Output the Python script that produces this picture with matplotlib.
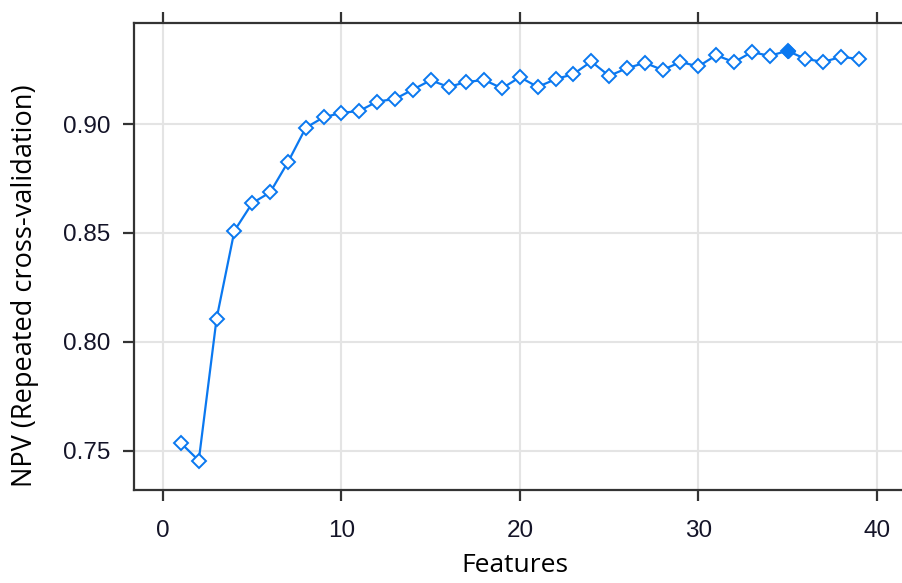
import matplotlib.pyplot as plt

# number of selected features vs. resampled NPV
features = list(range(1, 40))
npv = [0.7535, 0.7455, 0.8107, 0.8510, 0.8637, 0.8686, 0.8825, 0.8983, 0.9031, 0.9051,
       0.9060, 0.9103, 0.9115, 0.9158, 0.9201, 0.9170, 0.9193, 0.9202, 0.9164, 0.9215,
       0.9170, 0.9206, 0.9229, 0.9287, 0.9221, 0.9256, 0.9281, 0.9248, 0.9285, 0.9264,
       0.9316, 0.9284, 0.9330, 0.9313, 0.9336, 0.9299, 0.9285, 0.9308, 0.9299]
best = 35
xticks = [0, 10, 20, 30, 40]
yticks = [0.75, 0.80, 0.85, 0.90]

blue = '#0a78f0'
tick_font = ['Liberation Sans Narrow', 'Liberation Sans', 'DejaVu Sans']
label_font = ['Open Sans', 'DejaVu Sans']

fig = plt.figure(figsize=(9.03, 5.83), dpi=100)
ax = fig.add_axes([134 / 903, 1 - 489.5 / 583, 776.6 / 903, 467 / 583])

ax.plot(features, npv, color=blue, lw=1.6, marker='D', ms=7,
        mfc='white', mec=blue, mew=1.4, zorder=3)
ax.plot(best, npv[features.index(best)], marker='D', ms=7, color=blue, zorder=4)

ax.set_xlim(-1.63, 41.9)
ax.set_ylim(0.7322, 0.9466)
ax.set_xticks(xticks)
ax.set_yticks(yticks)
ax.set_yticklabels(['%.2f' % v for v in yticks])
ax.grid(True, color='#e4e4e4', lw=1.5, zorder=0)
ax.set_axisbelow(True)

for s in ax.spines.values():
    s.set_color('#333333')
    s.set_linewidth(1.6)
ax.spines['right'].set_visible(False)

ax.tick_params(axis='both', direction='out', length=8, width=1.6, color='#333333',
               labelsize=17.5, pad=9)
ax.tick_params(axis='x', top=True, labeltop=False, pad=14)
for lab in ax.get_xticklabels() + ax.get_yticklabels():
    lab.set_family(tick_font)
    lab.set_color('#141428')

ax.set_xlabel('Features', fontsize=19, family=label_font)
ax.set_ylabel('NPV (Repeated cross-validation)', fontsize=19.5, family=label_font)
ax.xaxis.set_label_coords(0.49, -0.136)
ax.yaxis.set_label_coords(-0.122, 0.436)

fig.savefig('out.png', dpi=100)
